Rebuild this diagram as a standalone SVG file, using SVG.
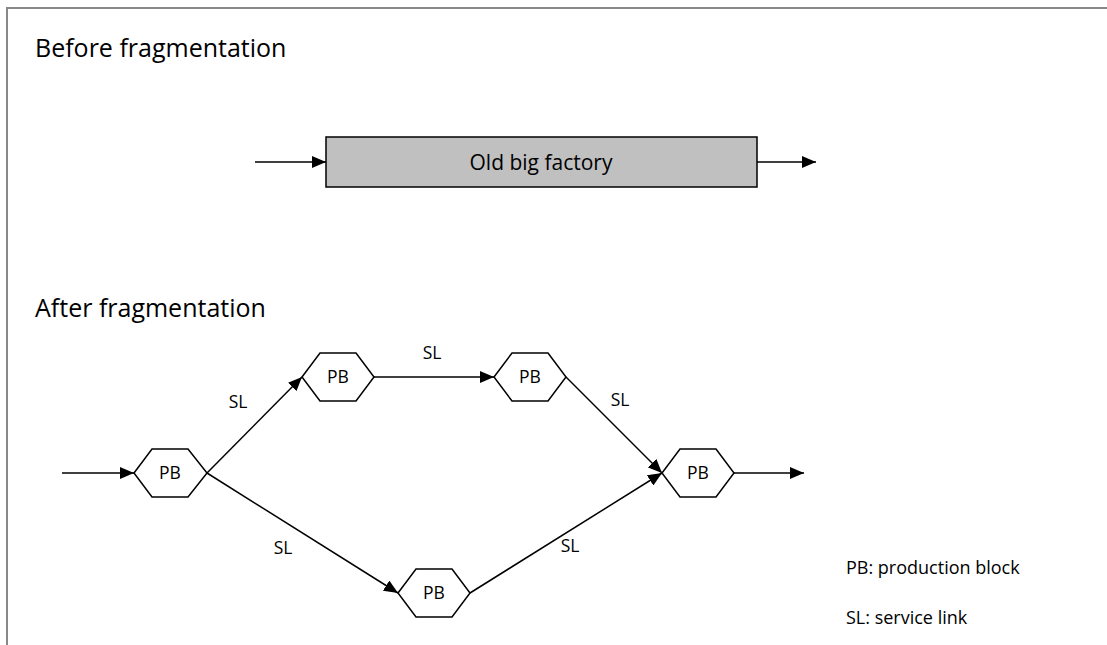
<svg xmlns="http://www.w3.org/2000/svg" width="1107" height="645" viewBox="0 0 1107 645">
<defs>
<style>
.t{font-family:"Open Sans","Liberation Sans",sans-serif;fill:#000}
.h{font-size:25px}
.s{font-size:17.5px}
.l{font-size:18px}
.hex{fill:#fff;stroke:#000;stroke-width:1.5}
.c{stroke:#000;stroke-width:1.5;fill:none;marker-end:url(#a)}
</style>
<marker id="a" viewBox="0 0 14 12" refX="14" refY="6" markerWidth="14" markerHeight="12" markerUnits="userSpaceOnUse" orient="auto">
<path d="M0,0 L14,6 L0,12 Z" fill="#000"/>
</marker>
</defs>
<rect width="1107" height="645" fill="#fff"/>
<path d="M7,660 V8 H1120" fill="none" stroke="#888" stroke-width="2"/>
<text class="t h" x="35" y="57">Before fragmentation</text>
<text class="t h" x="35" y="317">After fragmentation</text>
<g id="factory">
<rect x="326" y="137" width="431" height="50" fill="#c0c0c0" stroke="#000" stroke-width="1.5"/>
<text class="t" font-size="21" x="541" y="170" text-anchor="middle">Old big factory</text>
</g>
<g id="pb1"><polygon class="hex" points="134,473 152,449 188,449 207,473 188,497 152,497"/><text class="t s" x="170" y="479" text-anchor="middle">PB</text></g>
<g id="pb2"><polygon class="hex" points="302,377 320,353 356,353 374,377 356,401 320,401"/><text class="t s" x="338" y="383" text-anchor="middle">PB</text></g>
<g id="pb3"><polygon class="hex" points="494,377 512,353 548,353 566,377 548,401 512,401"/><text class="t s" x="530" y="383" text-anchor="middle">PB</text></g>
<g id="pb4"><polygon class="hex" points="662,473 680,449 716,449 734,473 716,497 680,497"/><text class="t s" x="698" y="479" text-anchor="middle">PB</text></g>
<g id="pb5"><polygon class="hex" points="398,593 416,569 452,569 470,593 452,617 416,617"/><text class="t s" x="434" y="599" text-anchor="middle">PB</text></g>
<g id="connectors">
<line class="c" x1="255" y1="162" x2="326" y2="162"/>
<line class="c" x1="757" y1="162" x2="816" y2="162"/>
<line class="c" x1="62" y1="473" x2="134" y2="473"/>
<line class="c" x1="734" y1="473" x2="804" y2="473"/>
<line class="c" x1="207" y1="473" x2="302" y2="377"/>
<line class="c" x1="374" y1="377" x2="494" y2="377"/>
<line class="c" x1="566" y1="377" x2="662" y2="473"/>
<line class="c" x1="207" y1="473" x2="398" y2="593"/>
<line class="c" x1="470" y1="593" x2="662" y2="473"/>
</g>
<g id="labels">
<text class="t s" x="238" y="408" text-anchor="middle">SL</text>
<text class="t s" x="432" y="359" text-anchor="middle">SL</text>
<text class="t s" x="620" y="406" text-anchor="middle">SL</text>
<text class="t s" x="283" y="554" text-anchor="middle">SL</text>
<text class="t s" x="570" y="552" text-anchor="middle">SL</text>
</g>
<g id="legend">
<text class="t l" x="846" y="574">PB: production block</text>
<text class="t l" x="846" y="624">SL: service link</text>
</g>
</svg>
